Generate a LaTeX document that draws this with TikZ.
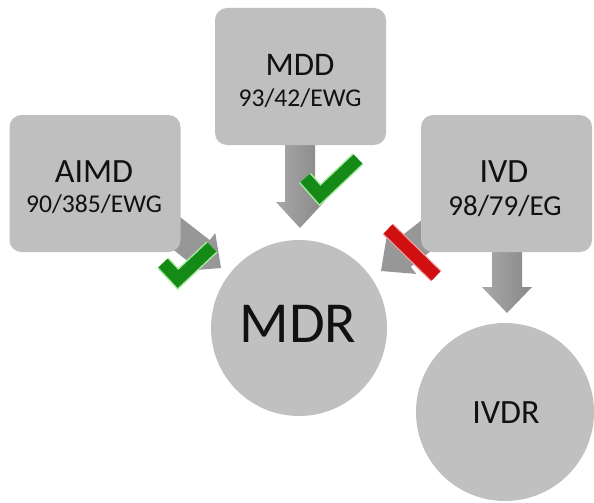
\documentclass[tikz,border=0pt]{standalone}
\usepackage{fontspec}
\setmainfont{Carlito}
\definecolor{boxgray}{HTML}{BFBFBF}
\definecolor{discgray}{HTML}{C0C0C0}
\definecolor{arrowL}{HTML}{A8A8A8}
\definecolor{arrowR}{HTML}{888888}
\definecolor{arrowD}{HTML}{979797}
\definecolor{txt}{HTML}{111111}
\definecolor{checkgreen}{HTML}{168A16}
\definecolor{glowgreen}{HTML}{A6EBA0}
\definecolor{barred}{HTML}{D01010}
\definecolor{glowred}{HTML}{F0A0A0}
\begin{document}
\begin{tikzpicture}[x=1pt,y=-1pt,
  box/.style={fill=boxgray, rounded corners=12pt, inner sep=0pt, minimum width=171pt, minimum height=137pt},
  disc/.style={circle, fill=discgray, inner sep=0pt},
  lbl/.style={anchor=base, inner sep=0pt, text=txt},
  arrowshade/.style={left color=arrowL, right color=arrowR},
  arrowflat/.style={fill=arrowD},
  checkglow/.style={draw=glowgreen, line width=15.5pt, line join=miter, line cap=butt},
  checkline/.style={draw=checkgreen, line width=12.5pt, line join=miter, line cap=butt},
  barglow/.style={draw=glowred, line width=15pt, line cap=butt},
  barline/.style={draw=barred, line width=12.5pt, line cap=butt},
]
\useasboundingbox (0,0) rectangle (594,503);
\fill[white] (0,0) rectangle (594,503);

% arrow tips
\coordinate (tmdd) at (300,228);
\coordinate (taimd) at (221,268);
\coordinate (tivd) at (381,271);
\coordinate (tivdr) at (507,313);

% block arrows (behind boxes)
\begin{scope}[shift={(tmdd)}, rotate=-90]
  \shade[arrowshade] (0,0) -- (-26,24) -- (-26,15) -- (-98,15) -- (-98,-15) -- (-26,-15) -- (-26,-24) -- cycle;
\end{scope}
\begin{scope}[shift={(tivdr)}, rotate=-90]
  \shade[arrowshade] (0,0) -- (-26,25) -- (-26,15) -- (-80,15) -- (-80,-15) -- (-26,-15) -- (-26,-25) -- cycle;
\end{scope}
\begin{scope}[shift={(taimd)}, rotate=-38]
  \fill[arrowflat] (0,0) -- (-26,24) -- (-26,15) -- (-80,15) -- (-80,-15) -- (-26,-15) -- (-26,-24) -- cycle;
\end{scope}
\begin{scope}[shift={(tivd)}, rotate=-142]
  \fill[arrowflat] (0,0) -- (-26,24) -- (-26,15) -- (-80,15) -- (-80,-15) -- (-26,-15) -- (-26,-24) -- cycle;
\end{scope}

% boxes
\node[box] (aimd) at (95,183.5) {};
\node[box] (mdd) at (300.5,76.5) {};
\node[box] (ivd) at (506.5,183.5) {};

% box texts
\node[lbl, font=\fontsize{34}{40}\selectfont] (aimdT) at (94,182) {AIMD};
\node[lbl, font=\fontsize{25.6}{30}\selectfont] (aimdS) at (94,212) {90/385/EWG};
\node[lbl, font=\fontsize{33}{40}\selectfont] (mddT) at (300,75) {MDD};
\node[lbl, font=\fontsize{25.6}{30}\selectfont] (mddS) at (300,106) {93/42/EWG};
\node[lbl, font=\fontsize{34}{40}\selectfont] (ivdT) at (504,182) {IVD};
\node[lbl, font=\fontsize{29}{34}\selectfont] (ivdS) at (505,215) {98/79/EG};

% circles
\node[disc, minimum size=176pt] (mdr) at (299,328) {};
\node[lbl, font=\fontsize{58}{66}\selectfont] (mdrT) at (298,342) {MDR};
\node[disc, minimum size=178pt] (ivdr) at (505,412) {};
\node[lbl, font=\fontsize{34}{40}\selectfont] (ivdrT) at (506,423) {IVDR};

% check marks
\draw[checkglow] (163,263) -- (178,279) -- (212,247);
\draw[checkline] (163,263) -- (178,279) -- (212,247);
\draw[checkglow] (305,178) -- (320,195) -- (358,159);
\draw[checkline] (305,178) -- (320,195) -- (358,159);

% red bar
\draw[barglow] (388,229) -- (436,276);
\draw[barline] (388,229) -- (436,276);
\end{tikzpicture}
\end{document}
